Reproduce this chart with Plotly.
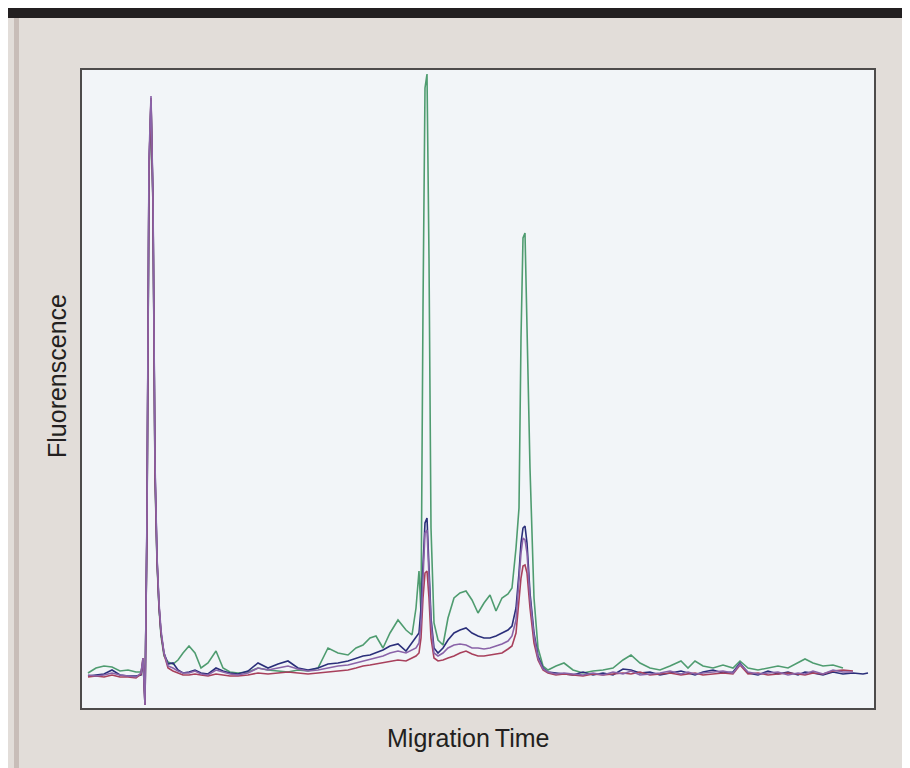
import plotly.graph_objects as go

# Migration time (min)
time_min = [0.30, 0.70, 1.10, 1.50, 1.90, 2.30, 2.70, 2.95, 3.05, 3.15, 3.25, 3.35, 3.45, 3.55, 3.65, 3.75, 3.85, 3.95, 4.10, 4.30,
            4.55, 4.80, 5.05, 5.35, 5.65, 5.95, 6.30, 6.70, 7.05, 7.40, 7.80, 8.30, 8.80, 9.30, 9.80, 10.30, 10.80, 11.30, 11.80, 12.30,
            12.80, 13.30, 13.70, 14.05, 14.40, 14.70, 15.05, 15.40, 15.80, 16.20, 16.50, 16.70, 16.85, 16.95, 17.05, 17.15, 17.25, 17.35, 17.45, 17.60,
            17.80, 18.05, 18.30, 18.60, 18.90, 19.20, 19.50, 19.80, 20.10, 20.40, 20.70, 21.00, 21.30, 21.50, 21.70, 21.85, 21.95, 22.05, 22.15, 22.25,
            22.40, 22.60, 22.80, 23.05, 23.30, 23.70, 24.10, 24.55, 25.05, 25.55, 26.05, 26.55, 27.05, 27.45, 27.90, 28.40, 28.90, 29.40, 29.95, 30.30,
            30.65, 31.05, 31.55, 32.05, 32.55, 32.90, 33.30, 33.80, 34.30, 34.80, 35.30, 35.80, 36.15, 36.55, 37.05, 37.55, 38.05, 38.55, 39.05, 39.30]

green = [35, 40, 42, 41, 37, 38, 36, 36, 45, 10, 180, 530, 605, 500, 230, 145, 100, 72, 52, 46,
         44, 48, 55, 62, 55, 40, 45, 57, 40, 36, 35, 36, 40, 38, 37, 36, 38, 37, 40, 60,
         55, 53, 60, 63, 70, 72, 60, 75, 88, 78, 73, 100, 137, 95, 400, 620, 634, 450, 180, 85,
         68, 63, 90, 110, 115, 117, 108, 95, 105, 113, 97, 110, 114, 120, 160, 200, 370, 470, 475, 370,
         240, 110, 60, 42, 38, 42, 45, 38, 35, 37, 38, 40, 48, 53, 45, 40, 38, 42, 47, 40,
         47, 42, 40, 43, 40, 47, 40, 38, 40, 42, 40, 45, 49, 45, 42, 43, 40, None, None, None]

blue = [32, 33, 34, 38, 33, 32, 32, 33, 48, 3, 190, 540, 608, 505, 240, 150, 102, 75, 55, 44,
        45, 38, 35, 36, 38, 35, 34, 40, 37, 35, 34, 37, 45, 40, 44, 47, 40, 38, 40, 44,
        45, 47, 50, 52, 53, 55, 58, 62, 64, 57, 65, 70, 75, 100, 140, 185, 190, 140, 90, 60,
        55, 60, 68, 75, 78, 80, 75, 72, 70, 70, 72, 75, 78, 82, 100, 135, 165, 180, 182, 165,
        115, 75, 52, 40, 36, 35, 34, 33, 36, 33, 35, 33, 39, 38, 35, 36, 33, 35, 37, 35,
        33, 36, 38, 35, 36, 45, 35, 33, 37, 34, 36, 33, 36, 35, 33, 36, 34, 35, 34, 35]

purple = [33, 32, 33, 35, 33, 32, 31, 35, 50, 3, 195, 550, 612, 510, 245, 152, 105, 78, 55, 42,
          40, 37, 35, 35, 37, 34, 33, 38, 36, 34, 33, 35, 40, 38, 40, 42, 39, 37, 38, 40,
          42, 43, 45, 47, 48, 50, 52, 55, 57, 55, 58, 60, 65, 85, 130, 175, 178, 135, 85, 55,
          52, 55, 60, 63, 64, 63, 60, 60, 59, 60, 62, 64, 67, 72, 88, 125, 155, 170, 168, 155,
          110, 72, 50, 39, 36, 34, 35, 34, 33, 35, 33, 36, 34, 37, 33, 34, 35, 37, 34, 36,
          34, 35, 36, 37, 35, 44, 36, 34, 35, 36, 33, 35, 34, 37, 34, 38, 36, 36, None, None]

red = [31, 32, 31, 33, 31, 31, 30, 34, 50, 3, 185, 540, 610, 500, 235, 148, 102, 75, 54, 40,
       37, 35, 33, 33, 34, 33, 32, 34, 33, 32, 32, 33, 35, 34, 35, 36, 35, 34, 35, 36,
       37, 38, 40, 42, 43, 44, 45, 46, 48, 47, 50, 52, 55, 70, 110, 135, 137, 110, 70, 50,
       47, 48, 50, 52, 55, 57, 54, 52, 52, 53, 54, 55, 59, 62, 75, 105, 130, 142, 143, 135,
       100, 65, 48, 38, 35, 33, 34, 33, 32, 34, 33, 34, 35, 34, 36, 33, 34, 35, 33, 34,
       35, 33, 34, 35, 34, 43, 34, 35, 33, 34, 35, 34, 33, 35, 34, 37, 38, 37, None, None]

series_names = ["Sample 1", "Sample 2", "Sample 3", "Sample 4"]
series_values = [green, blue, red, purple]
series_colors = ["#4f9c70", "#2b2f7a", "#a8405c", "#8a63a8"]

x_title = "Migration\u2009Time"
y_title = "Fluorenscence"

fig = go.Figure()
for name, vals, col in zip(series_names, series_values, series_colors):
    fig.add_trace(go.Scatter(x=time_min, y=vals, mode="lines", name=name,
                             line=dict(color=col, width=1.6), connectgaps=False))

W, H = 910, 768
ml, mr, mt, mb = 74, 44, 62, 68
pw, ph = W - ml - mr, H - mt - mb

def px(xp):
    return (xp - ml) / pw

def py(yp):
    return (H - mb - yp) / ph

shapes = [
    # dark top band
    dict(type="rect", xref="paper", yref="paper", x0=px(0), x1=px(W), y0=py(10), y1=py(0),
         fillcolor="#231f20", line=dict(width=0), layer="below"),
    # left strip
    dict(type="rect", xref="paper", yref="paper", x0=px(6), x1=px(11), y0=py(H), y1=py(10),
         fillcolor="#c8bdb8", line=dict(width=0), layer="below"),
]

fig.update_layout(
    width=W, height=H,
    margin=dict(l=ml, r=mr, t=mt, b=mb, pad=0),
    paper_bgcolor="#e2ddd9",
    plot_bgcolor="#f2f5f8",
    showlegend=False,
    shapes=shapes,
    xaxis=dict(range=[0, 39.6], showticklabels=False, ticks="", showgrid=False, zeroline=False,
               showline=True, mirror=True, linecolor="#4d4b4b", linewidth=2),
    yaxis=dict(range=[0, 638], showticklabels=False, ticks="", showgrid=False, zeroline=False,
               showline=True, mirror=True, linecolor="#4d4b4b", linewidth=2),
    annotations=[
        dict(text=x_title, xref="paper", yref="paper", x=px(460), y=py(730), showarrow=False,
             xanchor="center", yanchor="middle",
             font=dict(family="Liberation Sans, Arial, sans-serif", size=25, color="#231f20")),
        dict(text=y_title, xref="paper", yref="paper", x=px(49), y=py(368), showarrow=False,
             textangle=-90, xanchor="center", yanchor="middle",
             font=dict(family="Liberation Sans, Arial, sans-serif", size=25, color="#231f20")),
    ],
)

fig.write_html("out.html")
